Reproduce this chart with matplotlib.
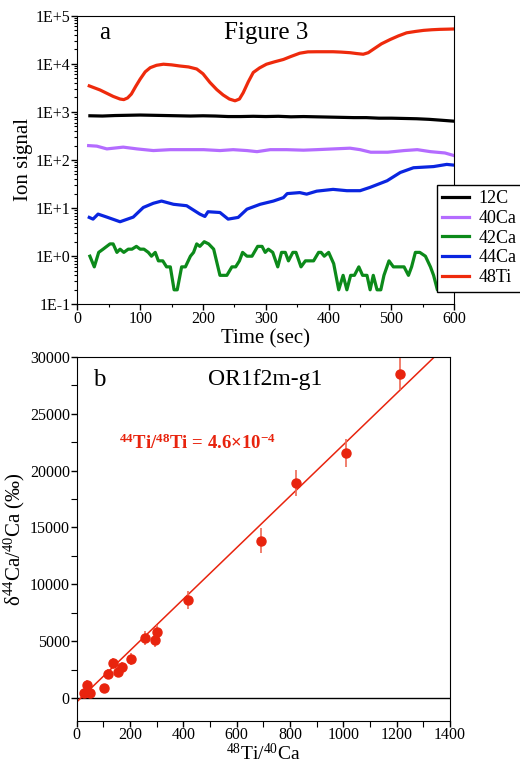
#! /usr/bin/python

#
# Description: Ion signal vs time (a) and d44Ca vs 48Ti/40Ca isochron (b)
#

import logging

# Gets rid of matplot logging DEBUG messages
plt_logger = logging.getLogger('matplotlib')
plt_logger.setLevel(logging.WARNING)

import matplotlib
matplotlib.use('Agg')
import matplotlib.pyplot as plt
from matplotlib.ticker import MultipleLocator, LogLocator, FuncFormatter, NullFormatter
import numpy as np

plt.rcParams['font.family'] = ['Liberation Serif', 'DejaVu Serif']
plt.rcParams['mathtext.fontset'] = 'custom'
plt.rcParams['mathtext.rm'] = 'Liberation Serif'
plt.rcParams['mathtext.it'] = 'Liberation Serif:italic'
plt.rcParams['mathtext.bf'] = 'Liberation Serif:bold'

# ---------------- panel a : ion signals ----------------
t_12C = [20, 40, 60, 80, 100, 120, 140, 160, 180, 200, 220, 240, 260, 280, 300,
         320, 340, 360, 380, 400, 420, 440, 460, 480, 500, 520, 540, 560, 580, 600]
v_12C = [830, 820, 840, 850, 860, 850, 840, 830, 820, 830, 820, 800, 800, 810, 800,
         810, 790, 800, 790, 780, 770, 760, 760, 740, 740, 730, 720, 700, 670, 640]

t_40Ca = [18, 31, 47, 73, 95, 121, 148, 174, 201, 227, 248, 270, 286, 307, 333,
          360, 381, 408, 434, 450, 467, 494, 520, 541, 562, 585, 600]
v_40Ca = [199, 194, 170, 185, 170, 157, 164, 164, 164, 157, 164, 157, 149, 164, 164,
          160, 164, 170, 176, 164, 145, 145, 157, 164, 149, 140, 123]

t_42Ca = [20, 27, 34, 41, 52, 57, 63, 68, 74, 81, 87, 94, 100, 106, 113, 118, 124,
          129, 136, 142, 148, 154, 159, 166, 172, 180, 185, 190, 195, 202, 209, 217,
          227, 238, 246, 252, 258, 263, 270, 278, 287, 294, 299, 304, 311, 319, 325,
          331, 336, 343, 348, 356, 363, 371, 376, 384, 388, 393, 400, 408, 416, 423,
          429, 435, 441, 448, 454, 461, 466, 471, 477, 483, 488, 496, 503, 514, 520,
          527, 532, 538, 545, 554, 562, 567, 573, 580]
v_42Ca = [1.0, 0.6, 1.2, 1.4, 1.8, 1.8, 1.2, 1.4, 1.2, 1.4, 1.4, 1.6, 1.4, 1.4, 1.2, 1.0, 1.2,
          0.8, 0.8, 0.6, 0.6, 0.2, 0.2, 0.6, 0.6, 1.0, 1.2, 1.8, 1.6, 2.0, 1.8, 1.4,
          0.4, 0.4, 0.6, 0.6, 0.8, 1.2, 1.0, 1.0, 1.6, 1.6, 1.2, 1.4, 1.2, 0.6, 1.2,
          1.2, 0.8, 1.2, 1.2, 0.6, 0.8, 0.8, 0.8, 1.2, 1.2, 1.0, 1.2, 0.7, 0.2, 0.4,
          0.2, 0.4, 0.4, 0.6, 0.4, 0.4, 0.2, 0.4, 0.2, 0.2, 0.4, 0.8, 0.6, 0.6, 0.6,
          0.4, 0.6, 1.2, 1.2, 1.0, 0.6, 0.4, 0.2, 0.2]

t_44Ca = [19, 25, 33, 47, 68, 89, 105, 121, 134, 153, 174, 195, 203, 208, 227, 240,
          256, 270, 291, 312, 328, 334, 354, 365, 381, 407, 429, 450, 466, 493, 514,
          535, 567, 588, 600]
v_44Ca = [6.4, 5.9, 7.5, 6.5, 5.2, 6.5, 10.3, 12.6, 14, 12, 11.2, 7.5, 6.7, 8.4, 8.1, 5.9,
          6.4, 9.5, 12, 14, 16.5, 20, 21, 19.5, 22.5, 24.5, 23, 23, 27, 37, 55,
          69, 73, 81, 78]

t_48Ti = [19, 36, 57, 68, 74, 80, 86, 93, 100, 108, 116, 126, 137, 150, 163, 177, 190,
          200, 211, 222, 232, 242, 251, 258, 264, 272, 280, 290, 301, 314, 328, 340,
          354, 367, 381, 394, 407, 420, 434, 445, 455, 463, 471, 484, 498, 511, 524,
          538, 551, 564, 577, 590, 600]
v_48Ti = [3470, 2860, 2100, 1850, 1800, 1950, 2350, 3400, 4800, 6800, 8300, 9300, 9800,
          9500, 9000, 8600, 7800, 6200, 4100, 2900, 2250, 1850, 1700, 1850, 2500, 4200,
          6600, 8200, 9800, 11000, 12300, 14200, 16600, 17700, 17800, 17800, 17800,
          17500, 17000, 16300, 15800, 17000, 20000, 26000, 32000, 38000, 44000, 47000,
          49500, 51000, 52000, 52500, 53000]

series_names = ['12C', '40Ca', '42Ca', '44Ca', '48Ti']
series_colors = ['#000000', '#b46cff', '#0c8a1a', '#0a25e0', '#ee2a0c']

# ---------------- panel b : isochron ----------------
ratio_TiCa = [27, 40, 50, 104, 119, 137, 155, 171, 202, 257, 295, 300, 416, 691, 824, 1010, 1211]
delta44 = [460, 1180, 460, 890, 2100, 3070, 2300, 2730, 3450, 5320, 5090, 5800, 8620,
           13850, 18940, 21550, 28500]
delta44_err = [350, 400, 350, 350, 450, 500, 450, 450, 550, 600, 600, 600, 800,
               1100, 1150, 1250, 1400]

fit_x = [0, 1400]
fit_slope = 22.6
fit_icpt = -330

red = '#e8240e'


def logLabel(v, pos):
    e = int(round(np.log10(v)))
    if e >= 0:
        return '1E+%d' % e
    return '1E%d' % e


def panelA(ax):
    data = [(t_12C, v_12C), (t_40Ca, v_40Ca), (t_42Ca, v_42Ca), (t_44Ca, v_44Ca), (t_48Ti, v_48Ti)]
    for (t, v), name, col in zip(data, series_names, series_colors):
        ax.plot(t, v, color=col, lw=2.3, label=name, solid_joinstyle='round')

    ax.set_yscale('log')
    ax.set_xlim(0, 600)
    ax.set_ylim(0.1, 1e5)
    ax.xaxis.set_major_locator(MultipleLocator(100))
    ax.xaxis.set_minor_locator(MultipleLocator(50))
    ax.yaxis.set_major_locator(LogLocator(base=10, numticks=10))
    ax.yaxis.set_minor_locator(LogLocator(base=10, subs=np.arange(2, 10), numticks=20))
    ax.yaxis.set_major_formatter(FuncFormatter(logLabel))
    ax.yaxis.set_minor_formatter(NullFormatter())
    ax.tick_params(axis='both', which='major', direction='out', length=4, width=1,
                   labelsize=11.5, pad=1)
    ax.tick_params(axis='both', which='minor', direction='out', length=2.5, width=0.8)
    ax.set_xlabel('Time (sec)', fontsize=15, labelpad=1.5)
    ax.set_ylabel('Ion signal', fontsize=15, labelpad=2)

    ax.text(0.058, 0.94, 'a', transform=ax.transAxes, fontsize=18, va='center', ha='left')
    ax.text(0.5, 0.94, 'Figure 3', transform=ax.transAxes, fontsize=18, va='center', ha='center')

    leg = ax.legend(loc='lower left', bbox_to_anchor=(0.954, 0.044), borderaxespad=0,
                    fontsize=13, frameon=True, fancybox=False, framealpha=1,
                    edgecolor='black', labelspacing=0.15, handlelength=1.5,
                    handletextpad=0.5, borderpad=0.3)
    leg.get_frame().set_linewidth(1.0)
    for ln in leg.get_lines():
        ln.set_linewidth(2.3)


def panelB(ax):
    ax.axhline(0, color='black', lw=1)
    fx = np.array(fit_x, dtype=float)
    ax.plot(fx, fit_slope * fx + fit_icpt, color=red, lw=1.1)
    ax.errorbar(ratio_TiCa, delta44, yerr=delta44_err, fmt='o', color=red, ms=6.5,
                ecolor='#ee6a55', elinewidth=1.2, capsize=0, zorder=3)

    ax.set_xlim(0, 1400)
    ax.set_ylim(-2000, 30000)
    ax.xaxis.set_major_locator(MultipleLocator(200))
    ax.xaxis.set_minor_locator(MultipleLocator(100))
    ax.yaxis.set_major_locator(MultipleLocator(5000))
    ax.yaxis.set_minor_locator(MultipleLocator(2500))
    ax.tick_params(axis='both', which='major', direction='out', length=4, width=1,
                   labelsize=11.5, pad=1)
    ax.tick_params(axis='x', which='major', pad=0.5)
    ax.tick_params(axis='both', which='minor', direction='out', length=4, width=0.8)
    ax.set_xlabel('$^{48}$Ti/$^{40}$Ca', fontsize=14)
    ax.xaxis.set_label_coords(0.5, -0.06)
    ax.set_ylabel(r'δ$^{44}$Ca/$^{40}$Ca ($\mathit{‰}$)', fontsize=15, labelpad=2)

    ax.text(0.044, 0.937, 'b', transform=ax.transAxes, fontsize=18, va='center', ha='left')
    ax.text(0.505, 0.937, 'OR1f2m-g1', transform=ax.transAxes, fontsize=17, va='center', ha='center')
    ax.text(0.114, 0.762, r'$^{\mathbf{44}}$Ti/$^{\mathbf{48}}$Ti = 4.6×10$^{\mathbf{-4}}$',
            transform=ax.transAxes, fontsize=13.5, fontweight='bold', color=red,
            va='center', ha='left')


def main():
    fig = plt.figure(figsize=(5.2, 7.69), dpi=100)
    axA = fig.add_axes([0.1487, 0.6043, 0.725, 0.3753])
    axB = fig.add_axes([0.1475, 0.0624, 0.718, 0.4737])
    panelA(axA)
    panelB(axB)
    fig.savefig('out.png', dpi=100)


if __name__ == '__main__': main()
